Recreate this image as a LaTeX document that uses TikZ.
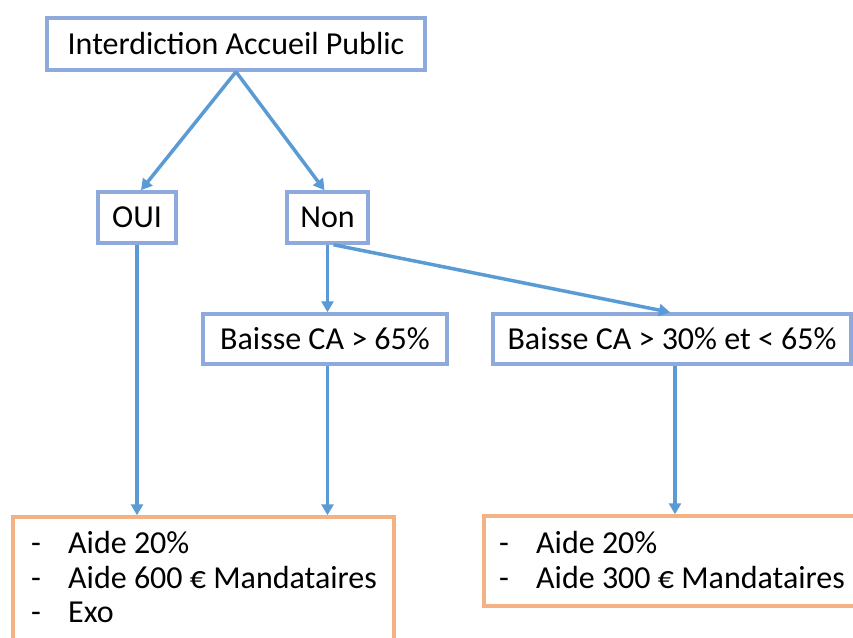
\documentclass[tikz,border=0pt]{standalone}
\usepackage{fontspec}
\setmainfont{Carlito}
\usetikzlibrary{arrows.meta}
\definecolor{boxblue}{HTML}{8EA9DB}
\definecolor{arrowblue}{HTML}{5B9BD5}
\definecolor{boxorange}{HTML}{F4B183}
\tikzset{
  bluebox/.style={draw=boxblue, line width=3.5pt, fill=white, inner sep=0pt,
    font=\fontsize{32}{38}\selectfont},
  orangebox/.style={draw=boxorange, line width=3.5pt, fill=white, inner sep=0pt},
  listline/.style={anchor=base west, inner sep=0pt, font=\fontsize{32}{38}\selectfont},
  conn/.style={draw=arrowblue, line width=3.5pt, -{Triangle[length=11pt,width=12pt]}}
}
\newcommand{\dashitem}[1]{\makebox[37pt][l]{-}#1}
\begin{document}
\begin{tikzpicture}[x=1pt,y=-1pt]
\useasboundingbox (0,0) rectangle (853,637);
\clip (0,0) rectangle (853,637);
\fill[white] (0,0) rectangle (853,637);

\node[bluebox, minimum width=378pt, minimum height=52pt] (top) at (236,44) {Interdiction Accueil Public};
\node[bluebox, minimum width=78pt, minimum height=51pt] (oui) at (137,217.5) {OUI};
\node[bluebox, minimum width=81pt, minimum height=51pt] (non) at (327.5,217.5) {Non};
\node[bluebox, minimum width=244pt, minimum height=50pt] (b1) at (325,339) {Baisse CA > 65\%};
\node[bluebox, minimum width=358pt, minimum height=50pt] (b2) at (672,339) {Baisse CA > 30\% et < 65\%};

\node[orangebox, minimum width=381pt, minimum height=143pt] (o1) at (203.5,588.5) {};
\node[orangebox, minimum width=374pt, minimum height=90pt] (o2) at (671,561) {};

\node[listline] (o1a) at (31,553) {\dashitem{Aide 20\%}};
\node[listline] (o1b) at (31,588) {\dashitem{Aide 600 € Mandataires}};
\node[listline] (o1c) at (31,622) {\dashitem{Exo}};
\node[listline] (o2a) at (499,553) {\dashitem{Aide 20\%}};
\node[listline] (o2b) at (499,588) {\dashitem{Aide 300 € Mandataires}};

\draw[conn] (top.south) -- ([xshift=4pt]oui.north);
\draw[conn] (top.south) -- ([xshift=-3pt]non.north);
\draw[conn] (non.south) -- (non.south |- b1.north);
\draw[conn] ([xshift=6pt]non.south) -- ([xshift=-2pt]b2.north);
\draw[conn] (oui.south) -- (oui.south |- o1.north);
\draw[conn] (non.south |- b1.south) -- (non.south |- o1.north);
\draw[conn] ([xshift=3pt]b2.south) -- ([xshift=3pt]b2.south |- o2.north);
\end{tikzpicture}
\end{document}
